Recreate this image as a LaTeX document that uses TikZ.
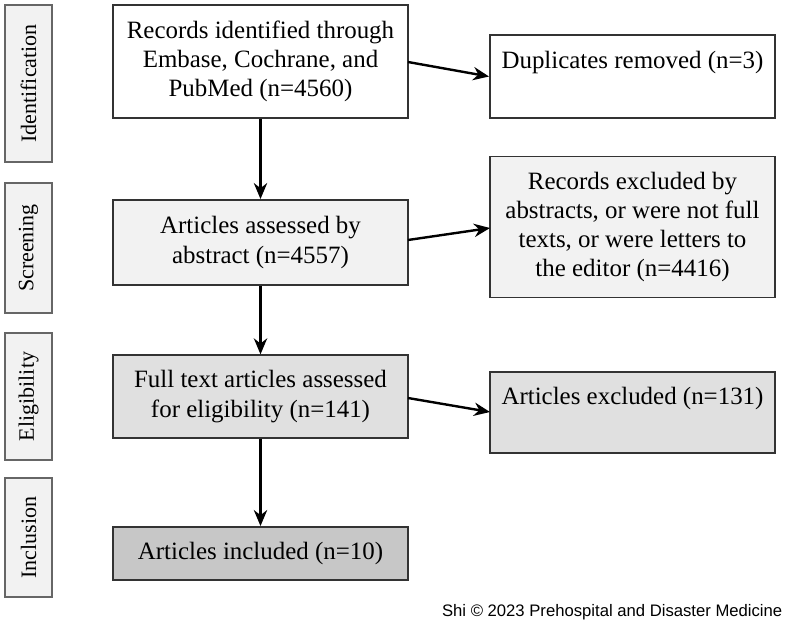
\documentclass[tikz,border=0pt]{standalone}
\usepackage{fontspec}
\setmainfont{Liberation Serif}
\newfontfamily\footfont{Liberation Sans}
\usetikzlibrary{arrows.meta}
\begin{document}
\begin{tikzpicture}[x=0.75pt,y=-0.75pt,
  box/.style={draw=black!80,line width=1.2pt,align=center,font=\fontsize{18.7}{22}\selectfont,inner sep=0pt},
  side/.style={draw=black!60,line width=0.8pt,fill=black!5},
  arr/.style={-{Stealth[length=12pt,width=10pt]},line width=1.8pt}]
\useasboundingbox (0,0) rectangle (789,625);
\foreach \n/\t/\a/\b in {s1/Identification/5/162,s2/Screening/183/313,s3/Eligibility/333/460,s4/Inclusion/478/597}{
  \draw[side] (5,\a) rectangle (52,\b);
  \node[rotate=90,font=\fontsize{16.5}{18}\selectfont] (\n) at (28.5,{(\a+\b)/2}) {\t};
}
\node[box,fill=white,minimum width=221pt,minimum height=85pt] (b1) at (260.5,61.5) {Records identified through\\Embase, Cochrane, and\\PubMed (n=4560)};
\node[box,fill=black!5,minimum width=221pt,minimum height=64pt] (b2) at (260.5,242.5) {Articles assessed by\\abstract (n=4557)};
\node[box,fill=black!12,minimum width=221pt,minimum height=62pt] (b3) at (260.5,396.5) {Full text articles assessed\\for eligibility (n=141)};
\node[box,fill=black!22,minimum width=221pt,minimum height=40pt] (b4) at (260.5,553.5) {Articles included (n=10)};
\node[box,fill=white,minimum width=214pt,minimum height=62pt] (r1) at (632.5,76.5) {};
\node[font=\fontsize{18.7}{22}\selectfont] (r1t) at (632.5,63) {Duplicates removed (n=3)};
\node[box,fill=black!5,minimum width=214pt,minimum height=106pt] (r2) at (632.5,227) {Records excluded by\\abstracts, or were not full\\texts, or were letters to\\the editor (n=4416)};
\node[box,fill=black!12,minimum width=214pt,minimum height=61pt] (r3) at (632.5,412.5) {};
\node[font=\fontsize{18.7}{22}\selectfont] (r3t) at (632.5,398) {Articles excluded (n=131)};
\draw[arr] (b1.south) -- (b2.north);
\draw[arr] (b2.south) -- (b3.north);
\draw[arr] (b3.south) -- (b4.north);
\draw[arr] (408,62) -- (r1.west);
\draw[arr] (408,240) -- (490,228);
\draw[arr] (408,398) -- (490,412);
\node[anchor=east,font=\footfont\fontsize{12.5}{14}\selectfont] (ft) at (787,612) {Shi © 2023 Prehospital and Disaster Medicine};
\end{tikzpicture}
\end{document}
